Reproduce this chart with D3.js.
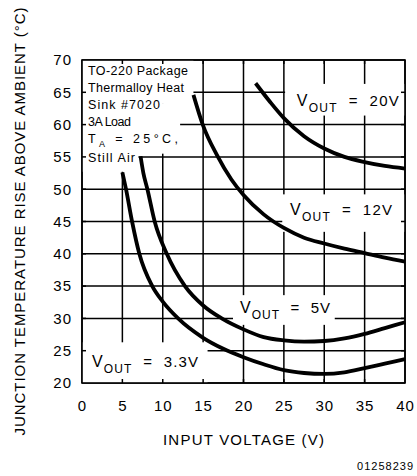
<!DOCTYPE html>
<html><head><meta charset="utf-8">
<script src="https://cdn.jsdelivr.net/npm/d3@7"></script>
<style>html,body{margin:0;padding:0;background:#fff;} svg{display:block;}</style>
</head><body><svg id="c" width="417" height="476"></svg>
<script>
// ---- data ----
const xTicks = [0, 5, 10, 15, 20, 25, 30, 35, 40];
const yTicks = [20, 25, 30, 35, 40, 45, 50, 55, 60, 65, 70];

const vin33  = [5.0, 5.45, 6.2, 7.1, 8.7, 10.0, 11.9, 15.0, 17.5, 20.0, 22.5, 25.0, 27.5, 30.0, 32.5, 35.0, 37.5, 40.0];
const temp33 = [52.6, 50.0, 45.0, 40.0, 35.0, 32.6, 30.0, 27.0, 25.3, 24.0, 22.9, 22.0, 21.55, 21.4, 21.65, 22.3, 23.0, 23.7];

const vin5   = [7.25, 7.6, 8.1, 9.0, 10.5, 12.75, 15.0, 17.3, 20.0, 22.5, 25.0, 27.5, 30.0, 32.5, 35.0, 37.5, 40.0];
const temp5  = [55.1, 52.5, 50.0, 45.0, 40.0, 35.0, 32.0, 30.0, 28.3, 27.1, 26.6, 26.4, 26.5, 26.9, 27.6, 28.5, 29.4];

const vin12  = [13.8, 14.95, 16.7, 18.5, 20.0, 22.5, 25.0, 27.5, 30.0, 32.5, 35.0, 37.5, 40.0];
const temp12 = [64.6, 60.0, 55.3, 51.5, 49.1, 46.1, 44.0, 42.5, 41.6, 40.8, 40.1, 39.4, 38.8];

const vin20  = [21.5, 23.3, 25.0, 27.5, 30.0, 32.5, 35.0, 37.5, 40.0];
const temp20 = [66.4, 63.5, 61.0, 58.2, 56.3, 55.0, 54.2, 53.6, 53.2];

const seriesNames = ["3.3V", "5V", "12V", "20V"];
const noteLines = ["TO-220 Package", "Thermalloy Heat", "Sink #7020", "3A Load", "T|A| = 25°C,", "Still Air"];
const xTitle = "INPUT VOLTAGE (V)";
const yTitle = "JUNCTION TEMPERATURE RISE ABOVE AMBIENT (°C)";
const figId = "01258239";

// ---- drawing ----
const svg = d3.select("#c");
const FONT = "'Liberation Sans', Arial, sans-serif";
const x = d3.scaleLinear().domain([0, 40]).range([82, 405]);
const y = d3.scaleLinear().domain([20, 70]).range([383, 60]);

// spread a text's characters evenly to reach a target width (start-anchored)
function fitWidth(t, target) {
  const node = t.node();
  const n = node.getNumberOfChars();
  const nat = node.getComputedTextLength();
  if (n > 1) t.attr("letter-spacing", ((target - nat) / (n - 1)).toFixed(3));
}

const grid = svg.append("g").attr("stroke", "#000").attr("stroke-width", 1.5);
grid.selectAll("line.v").data(xTicks).join("line")
  .attr("x1", d => x(d)).attr("x2", d => x(d))
  .attr("y1", y(20)).attr("y2", y(70));
grid.selectAll("line.h").data(yTicks).join("line")
  .attr("y1", d => y(d)).attr("y2", d => y(d))
  .attr("x1", x(0)).attr("x2", x(40));

// white areas behind the annotations (in data units)
const masks = [
  [0, 13.8, 70, 63.2], [0, 12.15, 63.2, 55.5], [0, 7.0, 55.5, 52.7],
  [25.15, 40, 66.3, 61.4],
  [24.8, 40, 49.2, 43.4],
  [18.7, 31.3, 33.6, 29.0],
  [0, 15.55, 26.3, 20]
];
svg.append("g").selectAll("rect").data(masks).join("rect")
  .attr("fill", "#fff")
  .attr("x", d => x(d[0])).attr("width", d => x(d[1]) - x(d[0]))
  .attr("y", d => y(d[2])).attr("height", d => y(d[3]) - y(d[2]));

// frame
svg.append("rect").attr("x", x(0)).attr("y", y(70))
  .attr("width", x(40) - x(0)).attr("height", y(20) - y(70))
  .attr("fill", "none").attr("stroke", "#000").attr("stroke-width", 1.6);

// inner ticks on all sides
const tk = svg.append("g").attr("stroke", "#000").attr("stroke-width", 1.5);
const ix = xTicks.slice(1, -1), iy = yTicks.slice(1, -1);
tk.selectAll(".tt").data(ix).join("line").attr("class","tt").attr("x1", d => x(d)).attr("x2", d => x(d)).attr("y1", y(70)).attr("y2", y(70) + 4);
tk.selectAll(".tb").data(ix).join("line").attr("class","tb").attr("x1", d => x(d)).attr("x2", d => x(d)).attr("y1", y(20)).attr("y2", y(20) - 4);
tk.selectAll(".tl").data(iy).join("line").attr("class","tl").attr("y1", d => y(d)).attr("y2", d => y(d)).attr("x1", x(0)).attr("x2", x(0) + 4);
tk.selectAll(".tr").data(iy).join("line").attr("class","tr").attr("y1", d => y(d)).attr("y2", d => y(d)).attr("x1", x(40)).attr("x2", x(40) - 4);

// axes labels via d3 axes
const ax = svg.append("g").attr("transform", `translate(0,${y(20)})`)
  .call(d3.axisBottom(x).tickValues(xTicks).tickSize(0).tickPadding(17).tickFormat(d3.format("d")));
const ay = svg.append("g").attr("transform", `translate(${x(0)},0)`)
  .call(d3.axisLeft(y).tickValues(yTicks).tickSize(0).tickPadding(11).tickFormat(d3.format("d")));
[ax, ay].forEach(g => {
  g.select(".domain").remove();
  g.selectAll("text").attr("font-family", FONT).attr("font-size", 15)
    .attr("fill", "#000").attr("letter-spacing", 1);
});
ay.selectAll("text").attr("dx", 1);

// curves
const line = d3.line().x(d => x(d[0])).y(d => y(d[1])).curve(d3.curveMonotoneX);
const series = [d3.zip(vin33, temp33), d3.zip(vin5, temp5), d3.zip(vin12, temp12), d3.zip(vin20, temp20)];
svg.append("g").selectAll("path").data(series).join("path")
  .attr("d", line).attr("fill", "none").attr("stroke", "#000")
  .attr("stroke-width", 3.8).attr("stroke-linecap", "butt");

// curve labels
const labelPos = [ [1.24, 22.48, 106], [19.57, 30.84, 90], [25.76, 46.0, 102], [26.6, 62.9, 102] ];
seriesNames.forEach((name, i) => {
  const [lx, ly, w] = labelPos[i];
  const t = svg.append("text").attr("x", x(lx)).attr("y", y(ly))
    .attr("font-family", FONT).attr("font-size", 15).attr("fill", "#000")
    .style("white-space", "pre");
  t.append("tspan").attr("font-size", 16).text("V");
  t.append("tspan").attr("font-size", 12).attr("dy", 6).text("OUT");
  t.append("tspan").attr("dy", -6).text("  =  " + name);
  t.attr("textLength", w).attr("lengthAdjust", "spacing");
});

// note block
const noteW = [100, 96, 72, 43, 90, 47];
const noteY = [75, 92, 109, 126, 143, 162];
noteLines.forEach((s, i) => {
  const t = svg.append("text").attr("x", 88).attr("y", noteY[i])
    .attr("font-family", FONT).attr("font-size", 12.5).attr("fill", "#000")
    .style("white-space", "pre");
  const parts = s.split("|");
  if (parts.length === 3) {
    t.append("tspan").text(parts[0]);
    t.append("tspan").attr("font-size", 9).attr("dy", 4).text(parts[1]);
    t.append("tspan").attr("dy", -4).text(parts[2]);
  } else t.text(s);
  fitWidth(t, noteW[i]);
});

// axis titles
svg.append("text").attr("x", 243.5).attr("y", 445).attr("text-anchor", "middle")
  .attr("font-family", FONT).attr("font-size", 15).attr("fill", "#000")
  .attr("textLength", 161).attr("lengthAdjust", "spacing").text(xTitle);
svg.append("text").attr("transform", "translate(25,221.5) rotate(-90)").attr("text-anchor", "middle")
  .attr("font-family", FONT).attr("font-size", 15).attr("fill", "#000")
  .attr("textLength", 428).attr("lengthAdjust", "spacing").text(yTitle);
svg.append("text").attr("x", 413).attr("y", 470).attr("text-anchor", "end")
  .attr("font-family", FONT).attr("font-size", 11).attr("fill", "#000")
  .attr("textLength", 56).attr("lengthAdjust", "spacing").text(figId);
</script></body></html>
